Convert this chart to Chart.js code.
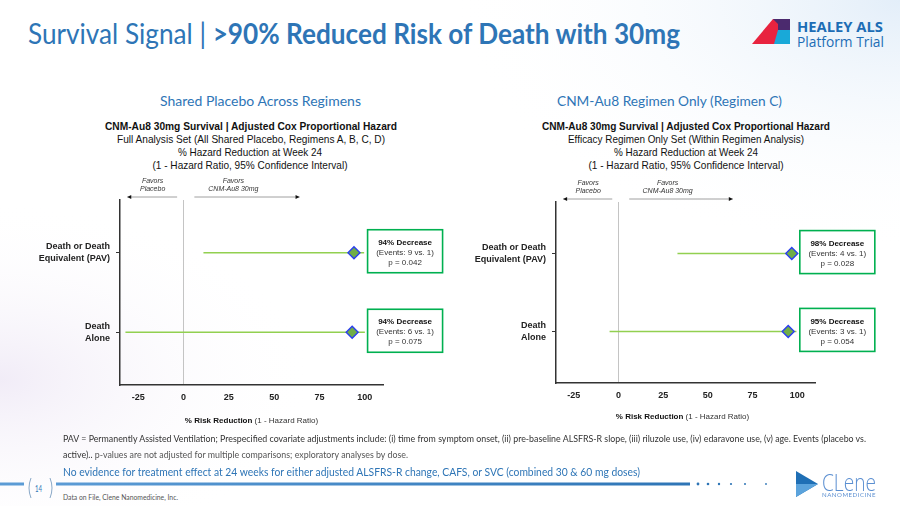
<!DOCTYPE html>
<html><head><meta charset="utf-8">
<script src="https://cdn.jsdelivr.net/npm/chart.js@4.4.1/dist/chart.umd.min.js"></script>
<style>
html,body{margin:0;padding:0;background:#fff;}
#slide{position:relative;width:900px;height:506px;overflow:hidden;background:#fff;font-family:Lato,"Open Sans",sans-serif;}
.t{position:absolute;left:0;top:0;white-space:nowrap;line-height:1;transform-origin:0 0;}
.cw{position:absolute;}
.hd{font-family:"Liberation Sans",Arial,sans-serif;color:#111;}
</style></head><body>
<div id="slide">
<svg width="900" height="506" style="position:absolute;left:0;top:0">
  <defs>
    <radialGradient id="gTR" cx="1" cy="0" r="0.5"><stop offset="0" stop-color="#e3eef9"/><stop offset="1" stop-color="#ffffff" stop-opacity="0"/></radialGradient>
    <radialGradient id="gBL" cx="0" cy="0.75" r="0.35"><stop offset="0" stop-color="#f1ecf7"/><stop offset="1" stop-color="#ffffff" stop-opacity="0"/></radialGradient>
    <linearGradient id="gLine" x1="0" x2="1"><stop offset="0" stop-color="#5b9bd5"/><stop offset="1" stop-color="#2e75b6"/></linearGradient>
  </defs>
  <rect width="900" height="506" fill="url(#gTR)"/>
  <rect width="900" height="506" fill="url(#gBL)"/>
  <!-- Healey logo -->
  <polygon points="752,44 773,19 778,19 778,44" fill="#e8233f"/>
  <polygon points="773,19 790,19 790,32 778,32 778,24" fill="#4b2a6e"/>
  <polygon points="778,30 790,30 790,44 774,44" fill="#19a9d8"/>
  <!-- footer line -->
  <rect x="0" y="482.5" width="24" height="3" fill="#5b9bd5"/>
  <rect x="56" y="482.5" width="634" height="3" fill="url(#gLine)"/>
  <circle cx="698" cy="484" r="1.4" fill="#2e75b6"/>
  <circle cx="708" cy="484" r="1.3" fill="#2e75b6"/>
  <circle cx="719" cy="484" r="1.2" fill="#2e75b6"/>
  <circle cx="731" cy="484" r="1.1" fill="#2e75b6"/>
  <circle cx="745" cy="484" r="1" fill="#2e75b6"/>
  <circle cx="766" cy="484" r="0.9" fill="#2e75b6"/>
  <path d="M31,478 Q27,488 31,498" stroke="#8aa9c8" stroke-width="1" fill="none"/>
  <path d="M50,478 Q54,488 50,498" stroke="#8aa9c8" stroke-width="1" fill="none"/>
  <!-- Clene logo -->
  <polygon points="796,471 818,484 796,497" fill="#1f6fb5"/>
  <polygon points="796,484 818,484 796,497" fill="#5ba3dc"/>
</svg>

<div class="t" id="title" style="font-size:28px;color:#2e75b6">Survival Signal | <b>&gt;90% Reduced Risk of Death with 30mg</b></div>
<div class="t" id="logo1" style="font-size:15px;color:#1d6db5;font-weight:bold;font-family:'Open Sans',Lato,sans-serif">HEALEY ALS</div>
<div class="t" id="logo2" style="font-size:15px;color:#1d6db5;font-family:'Open Sans',Lato,sans-serif">Platform Trial</div>

<div class="t" id="sub1" style="font-size:14px;color:#2e75b6">Shared Placebo Across Regimens</div>
<div class="t" id="sub2" style="font-size:14px;color:#2e75b6">CNM-Au8 Regimen Only (Regimen C)</div>

<div class="t hd" id="lh1" style="font-size:10.5px;font-weight:bold">CNM-Au8 30mg Survival | Adjusted Cox Proportional Hazard</div>
<div class="t hd" id="lh2" style="font-size:10.5px">Full Analysis Set (All Shared Placebo, Regimens A, B, C, D)</div>
<div class="t hd" id="lh3" style="font-size:10.5px">% Hazard Reduction at Week 24</div>
<div class="t hd" id="lh4" style="font-size:10.5px">(1 - Hazard Ratio, 95% Confidence Interval)</div>
<div class="t hd" id="rh1" style="font-size:10.5px;font-weight:bold">CNM-Au8 30mg Survival | Adjusted Cox Proportional Hazard</div>
<div class="t hd" id="rh2" style="font-size:10.5px">Efficacy Regimen Only Set (Within Regimen Analysis)</div>
<div class="t hd" id="rh3" style="font-size:10.5px">% Hazard Reduction at Week 24</div>
<div class="t hd" id="rh4" style="font-size:10.5px">(1 - Hazard Ratio, 95% Confidence Interval)</div>

<div class="cw" style="left:0;top:170px;width:450px;height:270px"><canvas id="c1"></canvas></div>
<div class="cw" style="left:450px;top:170px;width:450px;height:270px"><canvas id="c2"></canvas></div>

<div class="t" id="fn1" style="font-size:9px;color:#333">PAV = Permanently Assisted Ventilation; Prespecified covariate adjustments include: (i) time from symptom onset, (ii) pre-baseline ALSFRS-R slope, (iii) riluzole use, (iv) edaravone use, (v) age. Events (placebo vs.</div>
<div class="t" id="fn2" style="font-size:9px;color:#333">active).. <span style="color:#555">p-values are not adjusted for multiple comparisons; exploratory analyses by dose.</span></div>
<div class="t" id="note" style="font-size:12px;color:#2e75b6">No evidence for treatment effect at 24 weeks for either adjusted ALSFRS-R change, CAFS, or SVC (combined 30 &amp; 60 mg doses)</div>
<div class="t" id="pg" style="font-size:9px;color:#2e75b6">14</div>
<div class="t" id="dof" style="font-size:7px;color:#555">Data on File, Clene Nanomedicine, Inc.</div>
<div class="t" id="cl1" style="font-size:24px;color:#5b8fd1;font-family:'Open Sans',sans-serif;font-weight:300">CLene</div>
<div class="t" id="cl2" style="font-size:6px;color:#5b8fd1;letter-spacing:0.5px">NANOMEDICINE</div>
</div>

<script>
// ---- data ----
const categories = [['Death or Death', 'Equivalent (PAV)'], ['Death', 'Alone']];
const xTicks = [-25, 0, 25, 50, 75, 100];

const sharedEstimate = [94, 93];
const sharedLower = [11, -32];
const sharedUpper = [99.6, 100];
const sharedDecrease = ['94% Decrease', '94% Decrease'];
const sharedEvents = ['(Events: 9 vs. 1)', '(Events: 6 vs. 1)'];
const sharedP = ['p = 0.042', 'p = 0.075'];

const regimenEstimate = [97, 95];
const regimenLower = [33, -5];
const regimenUpper = [99.8, 99.6];
const regimenDecrease = ['98% Decrease', '95% Decrease'];
const regimenEvents = ['(Events: 4 vs. 1)', '(Events: 3 vs. 1)'];
const regimenP = ['p = 0.028', 'p = 0.054'];

// ---- text placement ----
function place(id, x0, x1, yc, align) {
  const el = document.getElementById(id);
  const r = el.getBoundingClientRect();
  const w = r.width, h = r.height;
  let s = 1, left = x0;
  if (x1 != null) { s = (x1 - x0) / w; }
  if (align === 'center') { left = x0 - w / 2; s = 1; }
  el.style.transform = `translate(${left}px, ${yc - h / 2}px) scale(${s},1)`;
}
function placeC(id, cx, width, yc) {
  place(id, cx - width / 2, cx + width / 2, yc);
}
place('title', 28, 680, 33);
place('logo1', 797, 883, 26);
place('logo2', 797, 884, 41);
place('sub1', 160, 361, 101);
place('sub2', 557, 782, 101);
placeC('lh1', 251, 292, 126); placeC('lh2', 251, 268, 139.5); placeC('lh3', 250, 144, 152.5); placeC('lh4', 250, 195, 165);
placeC('rh1', 686, 288, 126); placeC('rh2', 686, 236, 139.5); placeC('rh3', 686, 144, 152.5); placeC('rh4', 686, 195, 165);
place('fn1', 63, 866, 438);
place('fn2', 63, 408, 454);
place('note', 63, 640, 472);
place('pg', 35, 42, 488);
place('dof', 63, 178, 497);
place('cl1', 822, 876, 482);
place('cl2', 822, 876, 495);

// ---- chart ----
const AX = '"Liberation Sans", Arial, sans-serif';
const forestDecor = {
  id: 'forestDecor',
  afterDraw(chart) {
    const { ctx, chartArea: a, scales: { x, y } } = chart;
    const o = chart.options.plugins.forestDecor;
    ctx.save();
    // favors labels
    ctx.fillStyle = '#333';
    ctx.font = 'italic 7px ' + AX;
    ctx.textAlign = 'center';
    ctx.textBaseline = 'middle';
    const px = x.getPixelForValue(-17), cx = x.getPixelForValue(27.5);
    ctx.fillText('Favors', px, a.top - 19);
    ctx.fillText('Placebo', px, a.top - 11);
    ctx.fillText('Favors', cx, a.top - 19);
    ctx.fillText('CNM-Au8 30mg', cx, a.top - 11);
    const ay = a.top - 3;
    function arrow(from, to) {
      const x0 = x.getPixelForValue(from), x1 = x.getPixelForValue(to);
      ctx.strokeStyle = '#a0a0a0'; ctx.lineWidth = 1;
      ctx.beginPath(); ctx.moveTo(x0, ay); ctx.lineTo(x1, ay); ctx.stroke();
      const d = Math.sign(x1 - x0);
      ctx.fillStyle = '#111';
      ctx.beginPath(); ctx.moveTo(x1, ay); ctx.lineTo(x1 - d * 4, ay - 2); ctx.lineTo(x1 - d * 4, ay + 2); ctx.closePath(); ctx.fill();
    }
    arrow(-3.5, -31);
    arrow(6, 64);
    // result boxes
    const bx = x.getPixelForValue(101.5);
    o.decrease.forEach((d, i) => {
      const cy = y.getPixelForValue(i + 1);
      ctx.fillStyle = '#fff';
      ctx.fillRect(bx, cy - 23, 75, 43);
      ctx.strokeStyle = '#00b050'; ctx.lineWidth = 1.6;
      ctx.strokeRect(bx, cy - 23, 75, 43);
      ctx.fillStyle = '#111';
      ctx.font = 'bold 8px ' + AX;
      ctx.fillText(d, bx + 37.5, cy - 10);
      ctx.fillStyle = '#333';
      ctx.font = '8px ' + AX;
      ctx.fillText(o.events[i], bx + 37.5, cy);
      ctx.fillText(o.pvals[i], bx + 37.5, cy + 10);
    });
    // axis title
    const t1 = '% Risk Reduction', t2 = ' (1 - Hazard Ratio)';
    ctx.font = 'bold 8px ' + AX; const w1 = ctx.measureText(t1).width;
    ctx.font = '8px ' + AX; const w2 = ctx.measureText(t2).width;
    const sx = (a.left + a.right) / 2 - (w1 + w2) / 2 + o.titleShift;
    const ty = a.bottom + o.titleGap;
    ctx.textAlign = 'left';
    ctx.fillStyle = '#111';
    ctx.font = 'bold 8px ' + AX; ctx.fillText(t1, sx, ty);
    ctx.fillStyle = '#333';
    ctx.font = '8px ' + AX; ctx.fillText(t2, sx + w1, ty);
    ctx.restore();
  }
};

function makeForest(id, est, low, high, dec, ev, pv, geo) {
  const datasets = [{
    type: 'scatter',
    data: est.map((v, i) => ({ x: v, y: i + 1 })),
    pointStyle: 'rectRot',
    pointRadius: 6,
    backgroundColor: '#70ad47',
    borderColor: '#2b3ff0',
    borderWidth: 1.4,
    order: 0
  }];
  low.forEach((lo, i) => {
    datasets.push({
      type: 'line',
      data: [{ x: lo, y: i + 1 }, { x: high[i], y: i + 1 }],
      borderColor: '#92d050',
      borderWidth: 1.5,
      pointRadius: 0,
      order: 1
    });
  });
  return new Chart(document.getElementById(id), {
    type: 'scatter',
    data: { datasets },
    plugins: [forestDecor],
    options: {
      responsive: true,
      maintainAspectRatio: false,
      animation: false,
      devicePixelRatio: 1,
      layout: { padding: { top: geo.padTop, right: geo.padRight, bottom: geo.padBottom, left: 0 } },
      plugins: {
        legend: { display: false },
        tooltip: { enabled: false },
        forestDecor: { decrease: dec, events: ev, pvals: pv, titleGap: geo.titleGap, titleShift: geo.titleShift }
      },
      scales: {
        x: {
          type: 'linear', min: -35, max: 110,
          afterBuildTicks: s => { s.ticks = xTicks.map(v => ({ value: v })); },
          afterFit: s => { s.height = geo.xHeight; },
          grid: {
            color: c => (c.tick && c.tick.value === 0) ? '#c4c4c4' : 'rgba(0,0,0,0)',
            lineWidth: 1, drawTicks: false
          },
          border: { display: true, color: '#333', width: 1.5 },
          ticks: { font: { family: AX, size: 9, weight: 'bold' }, color: '#222', padding: 7, maxRotation: 0 }
        },
        y: {
          type: 'linear', min: 0.337, max: 2.663, reverse: true,
          afterBuildTicks: s => { s.ticks = categories.map((c, i) => ({ value: i + 1 })); },
          afterFit: s => { s.width = geo.yWidth; },
          grid: { drawOnChartArea: false, drawTicks: true, tickLength: 4, tickColor: '#333', color: '#333' },
          border: { display: true, color: '#333', width: 1.5 },
          ticks: {
            callback: v => categories[v - 1],
            font: { family: AX, size: 9, weight: 'bold', lineHeight: 1.3 },
            color: '#222', padding: 6
          }
        }
      }
    }
  });
}

makeForest('c1', sharedEstimate, sharedLower, sharedUpper, sharedDecrease, sharedEvents, sharedP,
  { yWidth: 120, padTop: 30, padRight: 67, padBottom: 33, xHeight: 22, titleGap: 36, titleShift: 0 });
makeForest('c2', regimenEstimate, regimenLower, regimenUpper, regimenDecrease, regimenEvents, regimenP,
  { yWidth: 106, padTop: 32, padRight: 85, padBottom: 35, xHeight: 22, titleGap: 34, titleShift: -3 });
</script>
</body></html>
